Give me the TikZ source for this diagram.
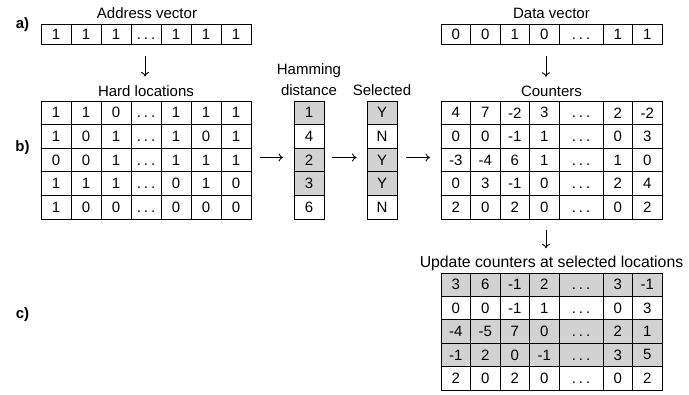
\documentclass[tikz,border=0pt]{standalone}
\usepackage{fontspec}
\setmainfont{Liberation Sans}
\usetikzlibrary{arrows.meta}
\newcommand\dd{\vphantom{1}.\hspace{3pt}.\hspace{3pt}.}
\tikzset{
  txt/.style={font=\fontsize{15}{18}\selectfont},
  cell/.style={txt, draw=black, line width=0.9pt, minimum height=23.6pt, minimum width=30pt, inner sep=0pt, anchor=center},
  vcell/.style={cell, minimum height=20pt},
  hit/.style={fill=gray!35},
  lbl/.style={txt, inner sep=0pt, anchor=base},
  tag/.style={font=\fontsize{15}{18}\selectfont\bfseries, inner sep=0pt},
  arr/.style={line width=0.9pt, -{To[length=4.5pt,width=8pt]}},
}
% hard-location style row: 7 equal columns starting at x=41
\newcommand\hrow[5]{% prefix, row, y, fill, list
  \foreach \t [count=\c] in {#5} {
    \node[cell, fill=#4] (#1-#2-\c) at ({26+30*\c},#3) {\t};
  }}
% counter style row: dots column wider
\newcommand\crow[6]{% prefix, row, y, fill, height, list
  \foreach \t [count=\c] in {#6} {
    \pgfmathsetmacro\xx{{455.75,485.25,514.75,544.25,581,617.75,647.25}[\c-1]}
    \pgfmathsetmacro\ww{{29.5,29.5,29.5,29.5,44,29.5,29.5}[\c-1]}
    \node[cell, fill=#4, minimum width=\ww pt, minimum height=#5pt] (#1-#2-\c) at (\xx,#3) {\t};
  }}
\begin{document}
\begin{tikzpicture}[x=1pt,y=-1pt]
\useasboundingbox[fill=white] (0,0) rectangle (689,395);

% tags
\node[tag] (ta) at (22.5,24.5) {a)};
\node[tag] (tb) at (22.5,148) {b)};
\node[tag] (tc) at (22.5,315) {c)};

% address vector
\node[lbl] (avl) at (147,19) {Address vector};
\foreach \t [count=\c] in {1,1,1,\dd,1,1,1}
  \node[vcell] (av-\c) at ({26+30*\c},34.4) {\t};

% hard locations
\node[lbl] (hll) at (146,96.5) {Hard locations};
\hrow{hl}{1}{112.8}{white}{1,1,0,\dd,1,1,1}
\hrow{hl}{2}{136.4}{white}{1,0,1,\dd,1,0,1}
\hrow{hl}{3}{160.0}{white}{0,0,1,\dd,1,1,1}
\hrow{hl}{4}{183.6}{white}{1,1,1,\dd,0,1,0}
\hrow{hl}{5}{207.2}{white}{1,0,0,\dd,0,0,0}

% hamming distance
\node[lbl] (hdl1) at (309,74.5) {Hamming};
\node[lbl] (hdl2) at (309,95.5) {distance};
\node[cell,hit] (hd-1) at (309,112.8) {1};
\node[cell]     (hd-2) at (309,136.4) {4};
\node[cell,hit] (hd-3) at (309,160.0) {2};
\node[cell,hit] (hd-4) at (309,183.6) {3};
\node[cell]     (hd-5) at (309,207.2) {6};

% selected
\node[lbl] (sll) at (382,95.5) {Selected};
\node[cell,hit] (sl-1) at (382,112.8) {Y};
\node[cell]     (sl-2) at (382,136.4) {N};
\node[cell,hit] (sl-3) at (382,160.0) {Y};
\node[cell,hit] (sl-4) at (382,183.6) {Y};
\node[cell]     (sl-5) at (382,207.2) {N};

% data vector
\node[lbl] (dvl) at (551.5,19) {Data vector};
\crow{dv}{1}{34.4}{white}{20}{0,0,1,0,\dd,1,1}

% counters
\node[lbl] (cl) at (551.5,96.5) {Counters};
\crow{ct}{1}{112.8}{white}{23.6}{4,7,-2,3,\dd,2,-2}
\crow{ct}{2}{136.4}{white}{23.6}{0,0,-1,1,\dd,0,3}
\crow{ct}{3}{160.0}{white}{23.6}{-3,-4,6,1,\dd,1,0}
\crow{ct}{4}{183.6}{white}{23.6}{0,3,-1,0,\dd,2,4}
\crow{ct}{5}{207.2}{white}{23.6}{2,0,2,0,\dd,0,2}

% updated counters
\node[lbl, font=\fontsize{15.8}{18}\selectfont] (ul) at (551.5,268) {Update counters at selected locations};
\crow{up}{1}{284.7}{gray!35}{23.4}{3,6,-1,2,\dd,3,-1}
\crow{up}{2}{308.1}{white}{23.4}{0,0,-1,1,\dd,0,3}
\crow{up}{3}{331.5}{gray!35}{23.4}{-4,-5,7,0,\dd,2,1}
\crow{up}{4}{354.9}{gray!35}{23.4}{-1,2,0,-1,\dd,3,5}
\crow{up}{5}{378.3}{white}{23.4}{2,0,2,0,\dd,0,2}

% arrows
\draw[arr] ([xshift=-1pt,yshift=-11.5pt]av-4.south) -- ([xshift=-1pt,yshift=9pt]hll.north);
\draw[arr] ([xshift=1.75pt,yshift=-11.5pt]dv-1-4.south) -- ([xshift=-5.5pt,yshift=9pt]cl.north);
\draw[arr] ([xshift=1.75pt,yshift=-10.5pt]ct-5-4.south) -- ([xshift=-5.5pt,yshift=8pt]ul.north);
\draw[arr] ([xshift=9pt,yshift=2.5pt]hl-3-7.east) -- ([xshift=-10.5pt,yshift=2.5pt]hd-3.west);
\draw[arr] ([xshift=8pt,yshift=2.5pt]hd-3.east) -- ([xshift=-10pt,yshift=2.5pt]sl-3.west);
\draw[arr] ([xshift=9pt,yshift=2.5pt]sl-3.east) -- ([xshift=-10.5pt,yshift=2.5pt]ct-3-1.west);
\end{tikzpicture}
\end{document}
